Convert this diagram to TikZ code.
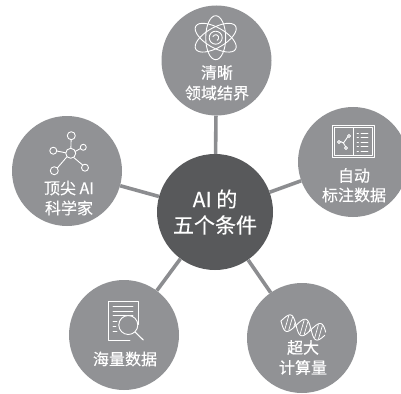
\documentclass[tikz,border=0pt]{standalone}
\usepackage{fontspec}
\setmainfont[FakeBold=0.25]{Noto Sans CJK SC}
\begin{document}
\begin{tikzpicture}[x=1pt,y=-1pt,
  hub/.style={circle,fill=hubgray,inner sep=0pt,minimum size=116pt},
  petal/.style={circle,fill=petalgray,inner sep=0pt,minimum size=110pt},
  link/.style={draw=linkgray,line width=3.6pt},
  lab/.style={text=white,align=center,font=\fontsize{16}{20}\selectfont,inner sep=0pt},
  hublab/.style={text=white,align=center,font=\fontsize{21}{26}\selectfont,inner sep=0pt},
  ico/.style={draw=white,line width=0.9pt,line cap=round,line join=round}]
\definecolor{hubgray}{HTML}{58595B}
\definecolor{petalgray}{HTML}{919295}
\definecolor{linkgray}{HTML}{8C8D90}
\useasboundingbox (0,0) rectangle (401,393);
\clip (0,0) rectangle (401,393);
\node[hub] (c) at (215,212) {};
\node[petal] (n1) at (216.5,60.5) {};
\node[petal] (n2) at (353,162) {};
\node[petal] (n3) at (302,338) {};
\node[petal] (n4) at (124,335) {};
\node[petal] (n5) at (67,171) {};
\draw[link] (c) -- (n1);
\draw[link] (c) -- (n2);
\draw[link] (c) -- (n3);
\draw[link] (c) -- (n4);
\draw[link] (c) -- (n5);
\node[hublab] (tc1) at (215,199) {AI 的};
\node[hublab] (tc2) at (215,225) {五个条件};
\node[lab] (t1a) at (217,72.5) {清晰};
\node[lab] (t1b) at (217,93) {领域结界};
\node[lab] (t2a) at (354,175.5) {自动};
\node[lab] (t2b) at (354,195) {标注数据};
\node[lab] (t3a) at (303,347.5) {超大};
\node[lab] (t3b) at (303,367.5) {计算量};
\node[lab] (t4) at (125,359) {海量数据};
\node[lab] (t5a) at (69,188) {顶尖 AI};
\node[lab] (t5b) at (69,208) {科学家};
% atom
\begin{scope}[ico,shift={(215.7,37.7)}]
  \draw (0,0) ellipse [x radius=10,y radius=22];
  \draw[rotate=60] (0,0) ellipse [x radius=10,y radius=23];
  \draw[rotate=-60] (0,0) ellipse [x radius=10,y radius=23];
  \draw[fill=petalgray] (0,0) circle (6.5);
  \draw (200:3) arc (200:420:3);
\end{scope}
% annotated book
\begin{scope}[ico]
  \draw (332.3,125.7) rectangle (374.3,157.3);
  \draw (334.3,127.7) rectangle (372.3,155.3);
  \draw (353,127.7) -- (353,155.3);
  \draw (339,142) circle (1.6);
  \draw (349,136) circle (1.6);
  \draw (346,148) circle (1.6);
  \draw (340.5,141.5) -- (343.5,143) -- (347.6,137);
  \draw (343.5,143) -- (345.5,146.5);
  \foreach \yy in {133,137.5,142,146.5,151}{
    \draw (357,\yy) -- (358.5,\yy);
    \draw (361,\yy) -- (368,\yy);
  }
\end{scope}
% DNA
\begin{scope}[ico,shift={(281,321)},rotate=-16]
  \draw[domain=0:46,samples=60,smooth] plot (\x,{8.5*sin(\x*11.5)});
  \draw[domain=0:46,samples=60,smooth] plot (\x,{-8.5*sin(\x*11.5)});
  \foreach \xx in {6,10,14,22,26,30,37,41}{
    \pgfmathsetmacro{\aa}{7.5*sin(\xx*11.5)}
    \draw[line width=0.7pt] (\xx,\aa) -- (\xx,-\aa);
  }
\end{scope}
% document with magnifier
\begin{scope}[ico]
  \draw (131,324) -- (138.3,324) -- (138.3,301.7) -- (108.3,301.7) -- (108.3,340) -- (130,340);
  \draw (113,306.5) -- (133,306.5);
  \draw (113,311) -- (133,311);
  \draw (113,315.5) -- (133,315.5);
  \draw (113,321) -- (117,321);
  \draw (113,326) -- (116,326);
  \draw (113,331) -- (117,331);
  \draw[fill=petalgray] (128.3,325) circle (9.5);
  \draw[line width=1.1pt] (135,332) -- (143.3,340);
\end{scope}
% network
\begin{scope}[ico]
  \coordinate (h) at (70.7,153.3);
  \draw (h) circle (5);
  \draw (71.3,135.7) circle (4);
  \draw (83.3,147.3) circle (3);
  \draw (53.3,150.7) circle (3.5);
  \draw (85,167.7) circle (3.5);
  \draw (54.3,170.7) circle (4);
  \draw (71.1,139.7) -- (70.9,148.3);
  \draw (80.5,148.5) -- (75.3,151.4);
  \draw (56.8,151) -- (65.7,152.8);
  \draw (82.6,165) -- (73.6,157.4);
  \draw (57.3,168) -- (67,156.7);
\end{scope}
\end{tikzpicture}
\end{document}
